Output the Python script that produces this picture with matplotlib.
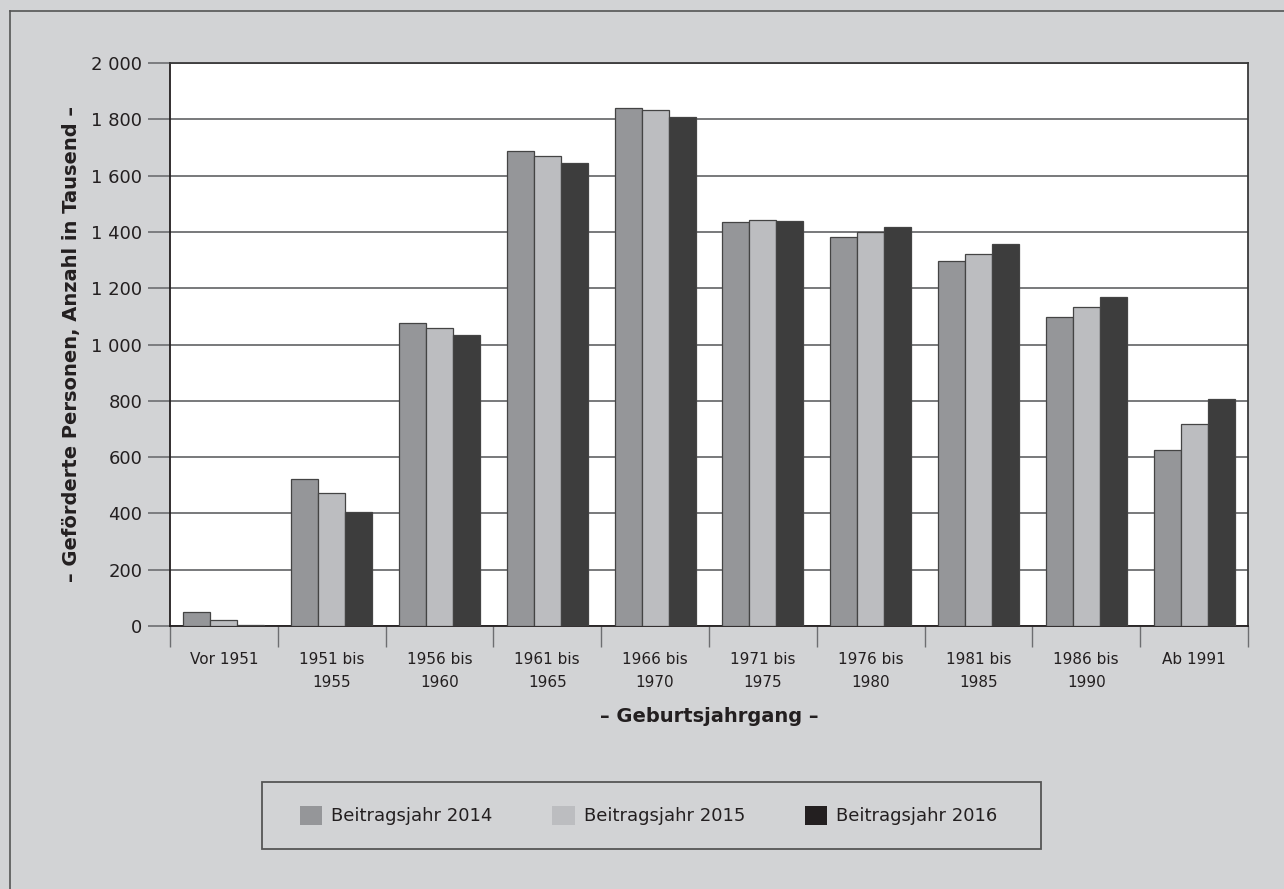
#!/usr/bin/env python3
"""
Geförderte Personen nach Geburtsjahrgang, Beitragsjahre 2014 bis 2016.

Uitvoer:
    out.png
"""

from __future__ import annotations

from pathlib import Path

import matplotlib

matplotlib.use("Agg")

import matplotlib.pyplot as plt
import matplotlib.patches as mpatches
from matplotlib.lines import Line2D
from matplotlib.ticker import FixedLocator, FuncFormatter


UITVOER_PAD = Path("out.png")

ACHTERGROND = "#d2d3d5"
TEKST = "#231f20"
RASTER = "#6d6e71"

JAARGANGEN = [
    "Vor 1951",
    "1951 bis\n1955",
    "1956 bis\n1960",
    "1961 bis\n1965",
    "1966 bis\n1970",
    "1971 bis\n1975",
    "1976 bis\n1980",
    "1981 bis\n1985",
    "1986 bis\n1990",
    "Ab 1991",
]

REEKSEN = ["Beitragsjahr 2014", "Beitragsjahr 2015", "Beitragsjahr 2016"]

# Anzahl in Tausend.
WAARDEN_2014 = [48, 522, 1078, 1688, 1839, 1436, 1381, 1297, 1097, 624]
WAARDEN_2015 = [20, 474, 1057, 1669, 1832, 1444, 1398, 1322, 1132, 718]
WAARDEN_2016 = [4, 405, 1034, 1644, 1809, 1439, 1418, 1357, 1170, 807]

Y_TICKS = [0, 200, 400, 600, 800, 1000, 1200, 1400, 1600, 1800, 2000]

KLEUREN_BALK = ["#959699", "#bcbdc0", "#3d3d3d"]
KLEUREN_LEGENDA = ["#959699", "#bcbdc0", "#231f20"]


def duizendtal(waarde: float, _pos: int) -> str:
    return f"{waarde:,.0f}".replace(",", " ")


def maak_grafiek(uitvoer_pad: Path) -> None:
    plt.rcParams["font.family"] = ["DejaVu Sans"]
    plt.rcParams["text.color"] = TEKST

    fig = plt.figure(figsize=(12.84, 8.89), dpi=100, facecolor=ACHTERGROND)
    W, H = 1284, 889

    ax = fig.add_axes(
        [170 / W, 1 - 626 / H, (1248 - 170) / W, (626 - 63) / H]
    )
    ax.set_facecolor("white")

    reeksen = [WAARDEN_2014, WAARDEN_2015, WAARDEN_2016]
    n = len(JAARGANGEN)
    x = list(range(n))
    breedte = 0.25

    for i, (waarden, kleur) in enumerate(zip(reeksen, KLEUREN_BALK)):
        ax.bar(
            [p + (i - 1) * breedte for p in x],
            waarden,
            width=breedte,
            color=kleur,
            edgecolor="#444444",
            linewidth=0.9,
            zorder=3,
        )

    ax.set_xlim(-0.5, n - 0.5)
    ax.set_ylim(0, 2000)

    # Y-as
    ax.set_yticks(Y_TICKS)
    ax.yaxis.set_major_formatter(FuncFormatter(duizendtal))
    ax.tick_params(
        axis="y",
        length=16,
        width=1.2,
        color=RASTER,
        pad=4,
        labelsize=13,
        labelcolor=TEKST,
    )
    ax.grid(axis="y", color=RASTER, linewidth=1.3, zorder=0)
    ax.set_axisbelow(True)

    # X-as: streepjes tussen de groepen, labels in het midden
    ax.xaxis.set_major_locator(FixedLocator([p - 0.5 for p in range(n + 1)]))
    ax.xaxis.set_major_formatter(FuncFormatter(lambda v, p: ""))
    ax.xaxis.set_minor_locator(FixedLocator(x))
    ax.set_xticklabels(JAARGANGEN, minor=True, linespacing=1.6)
    ax.tick_params(axis="x", which="major", length=15, width=1.0, color=RASTER)
    ax.tick_params(
        axis="x",
        which="minor",
        length=0,
        pad=19,
        labelsize=11,
        labelcolor=TEKST,
    )

    for kant in ["left", "bottom"]:
        ax.spines[kant].set_color(TEKST)
        ax.spines[kant].set_linewidth(1.3)
    for kant in ["top", "right"]:
        ax.spines[kant].set_color("#3a3a3a")
        ax.spines[kant].set_linewidth(1.3)

    ax.set_xlabel(
        "– Geburtsjahrgang –",
        fontsize=14,
        fontweight="bold",
        color=TEKST,
        va="center",
    )
    ax.xaxis.set_label_coords(0.5, -(717 - 626) / (626 - 63))

    ax.set_ylabel(
        "– Geförderte Personen, Anzahl in Tausend –",
        fontsize=14,
        fontweight="bold",
        color=TEKST,
        va="center",
    )
    ax.yaxis.set_label_coords(-(170 - 72) / (1248 - 170), 0.5)

    # Legenda in een eigen kader
    fig.add_artist(
        mpatches.Rectangle(
            (262 / W, 1 - 849 / H),
            (1041 - 262) / W,
            (849 - 782) / H,
            transform=fig.transFigure,
            facecolor="none",
            edgecolor="#555555",
            linewidth=1.3,
        )
    )
    handles = [
        mpatches.Patch(facecolor=kleur, edgecolor="none")
        for kleur in KLEUREN_LEGENDA
    ]
    fig.legend(
        handles,
        REEKSEN,
        loc="center",
        bbox_to_anchor=(648.5 / W, 1 - 815.5 / H),
        ncol=3,
        frameon=False,
        fontsize=13,
        handlelength=1.25,
        handleheight=1.25,
        handletextpad=0.5,
        columnspacing=3.3,
    )

    # Rand linksboven rond de figuur
    fig.add_artist(
        Line2D(
            [9.5 / W, 1.0], [1 - 10.5 / H, 1 - 10.5 / H],
            transform=fig.transFigure, color="#555555", linewidth=1.2,
        )
    )
    fig.add_artist(
        Line2D(
            [9.5 / W, 9.5 / W], [0.0, 1 - 10.5 / H],
            transform=fig.transFigure, color="#555555", linewidth=1.2,
        )
    )

    fig.savefig(uitvoer_pad, dpi=100, facecolor=ACHTERGROND)
    plt.close(fig)


def main() -> int:
    maak_grafiek(UITVOER_PAD)
    print(f"Grafiek gemaakt: {UITVOER_PAD}")
    return 0


if __name__ == "__main__":
    raise SystemExit(main())
